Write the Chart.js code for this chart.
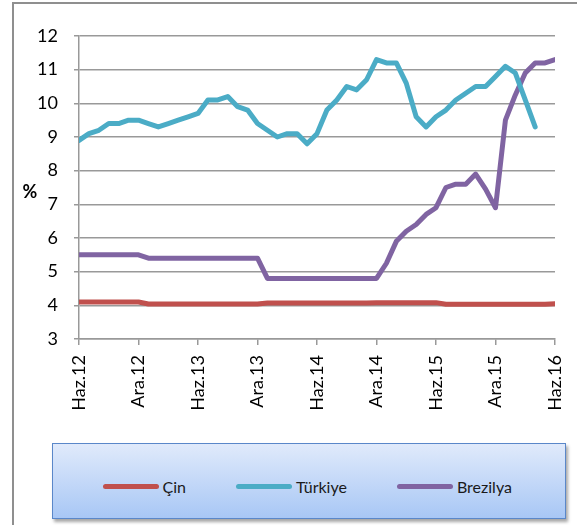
<!DOCTYPE html>
<html lang="tr">
<head>
<meta charset="utf-8">
<title>Çin, Türkiye, Brezilya</title>
<script src="https://cdn.jsdelivr.net/npm/chart.js@4.4.1/dist/chart.umd.min.js"></script>
<style>
    html, body { margin: 0; padding: 0; background: #fff; overflow: hidden; }
    body { width: 577px; height: 525px; position: relative; font-family: Lato, 'Open Sans', sans-serif; }
    #frame {
        position: absolute; left: 12px; top: 2px; width: 620px; height: 600px;
        border: 2px solid #8f8f8f; box-sizing: border-box;
    }
    #chart { position: absolute; left: 0; top: 0; }
    #legend {
        position: absolute; left: 52px; top: 443px; width: 514px; height: 76px;
        box-sizing: border-box; border: 1.5px solid #5a87c9;
        background: linear-gradient(#e0eafb, #a8c7f5);
        box-shadow: 2px 3px 3px rgba(0, 0, 0, 0.35);
        display: flex; justify-content: flex-start; align-items: center; gap: 50px;
        padding-top: 10px; padding-left: 49.5px;
    }
    .item { display: flex; align-items: center; font-size: 16px; color: #1a1a1a; }
    .swatch { width: 56px; height: 5px; border-radius: 3px; margin-right: 4px; }
</style>
</head>
<body>
<div id="frame"></div>
<canvas id="chart" width="577" height="440"></canvas>
<div id="legend"></div>
<script>
// Haz.12 -> Haz.16, aylık (49 ay)
const xTickLabels = ['Haz.12', 'Ara.12', 'Haz.13', 'Ara.13', 'Haz.14', 'Ara.14', 'Haz.15', 'Ara.15', 'Haz.16'];
const yTitle = '%';

const seriesNames = ['Çin', 'Türkiye', 'Brezilya'];
const seriesColors = ['#c0504d', '#4bacc6', '#8064a2'];

const cin = [
    4.1, 4.1, 4.1, 4.1, 4.1, 4.1, 4.1,
    4.04, 4.04, 4.04, 4.04, 4.04, 4.04, 4.04, 4.04, 4.04, 4.04, 4.04, 4.04,
    4.07, 4.07, 4.07, 4.07, 4.07, 4.07, 4.07, 4.07, 4.07, 4.07, 4.07,
    4.08, 4.08, 4.08, 4.08, 4.08, 4.08, 4.08,
    4.03, 4.03, 4.03, 4.03, 4.03, 4.03, 4.03, 4.03, 4.03, 4.03, 4.03, 4.05
];

const turkiye = [
    8.9, 9.1, 9.2, 9.4, 9.4, 9.5, 9.5, 9.4, 9.3, 9.4, 9.5, 9.6,
    9.7, 10.1, 10.1, 10.2, 9.9, 9.8, 9.4, 9.2, 9.0, 9.1, 9.1, 8.8,
    9.1, 9.8, 10.1, 10.5, 10.4, 10.7, 11.3, 11.2, 11.2, 10.6, 9.6, 9.3,
    9.6, 9.8, 10.1, 10.3, 10.5, 10.5, 10.8, 11.1, 10.9, 10.1, 9.3, null, null
];

const brezilya = [
    5.5, 5.5, 5.5, 5.5, 5.5, 5.5, 5.5,
    5.4, 5.4, 5.4, 5.4, 5.4, 5.4, 5.4, 5.4, 5.4, 5.4, 5.4, 5.4,
    4.8, 4.8, 4.8, 4.8, 4.8, 4.8, 4.8, 4.8, 4.8, 4.8, 4.8, 4.8,
    5.25, 5.9, 6.2, 6.4, 6.7, 6.9, 7.5, 7.6, 7.6, 7.9, 7.45, 6.9,
    9.5, 10.25, 10.9, 11.2, 11.2, 11.3
];

const allSeries = [cin, turkiye, brezilya];

const gridColor = '#999999';
const fontFamily = "Lato, 'Open Sans', sans-serif";

// y ekseni başlığı yatay duruyor, eklenti ile çiziliyor
const yTitlePlugin = {
    id: 'yTitle',
    afterDraw(chart) {
        const { ctx, chartArea } = chart;
        ctx.save();
        ctx.font = 'bold 18px ' + fontFamily;
        ctx.fillStyle = '#000';
        ctx.textAlign = 'center';
        ctx.textBaseline = 'middle';
        ctx.fillText(yTitle, 30, (chartArea.top + chartArea.bottom) / 2 + 5);
        ctx.restore();
    }
};

const datasets = allSeries.map((values, i) => ({
    label: seriesNames[i],
    data: values.map((v, idx) => ({ x: idx, y: v })),
    borderColor: seriesColors[i],
    backgroundColor: seriesColors[i],
    borderWidth: 5,
    pointRadius: 0,
    tension: 0,
    borderJoinStyle: 'round',
    borderCapStyle: 'round',
    spanGaps: false
}));

new Chart(document.getElementById('chart'), {
    type: 'line',
    data: { datasets },
    options: {
        responsive: false,
        animation: false,
        events: [],
        layout: { padding: { top: 36, right: 22, left: 0, bottom: 0 } },
        plugins: {
            legend: { display: false },
            tooltip: { enabled: false }
        },
        scales: {
            x: {
                type: 'linear',
                min: 0,
                max: 48,
                afterFit: (scale) => {
                    scale.height = 101;
                    scale.paddingLeft = 0;
                    scale.paddingRight = 0;
                },
                afterBuildTicks: (scale) => {
                    scale.ticks = xTickLabels.map((_, i) => ({ value: i * 6 }));
                },
                ticks: {
                    stepSize: 6,
                    autoSkip: false,
                    minRotation: 90,
                    maxRotation: 90,
                    padding: 10,
                    color: '#000',
                    font: { family: fontFamily, size: 18 },
                    callback: (v) => xTickLabels[v / 6]
                },
                grid: {
                    drawOnChartArea: false,
                    drawTicks: true,
                    tickLength: 6,
                    color: gridColor,
                    lineWidth: 1.5
                },
                border: { display: true, color: gridColor, width: 1.5 }
            },
            y: {
                min: 3,
                max: 12,
                afterFit: (scale) => { scale.width = 79; },
                ticks: {
                    stepSize: 1,
                    padding: 16,
                    color: '#000',
                    font: { family: fontFamily, size: 18 }
                },
                grid: {
                    color: gridColor,
                    lineWidth: 1.5,
                    tickLength: 5
                },
                border: { display: true, color: gridColor, width: 1.5 }
            }
        }
    },
    plugins: [yTitlePlugin]
});

// HTML açıklama kutusu
const legendEl = document.getElementById('legend');
seriesNames.forEach((name, i) => {
    const item = document.createElement('div');
    item.className = 'item';
    item.innerHTML = `<span class="swatch" style="background:${seriesColors[i]}"></span><span>${name}</span>`;
    legendEl.appendChild(item);
});
</script>
</body>
</html>
